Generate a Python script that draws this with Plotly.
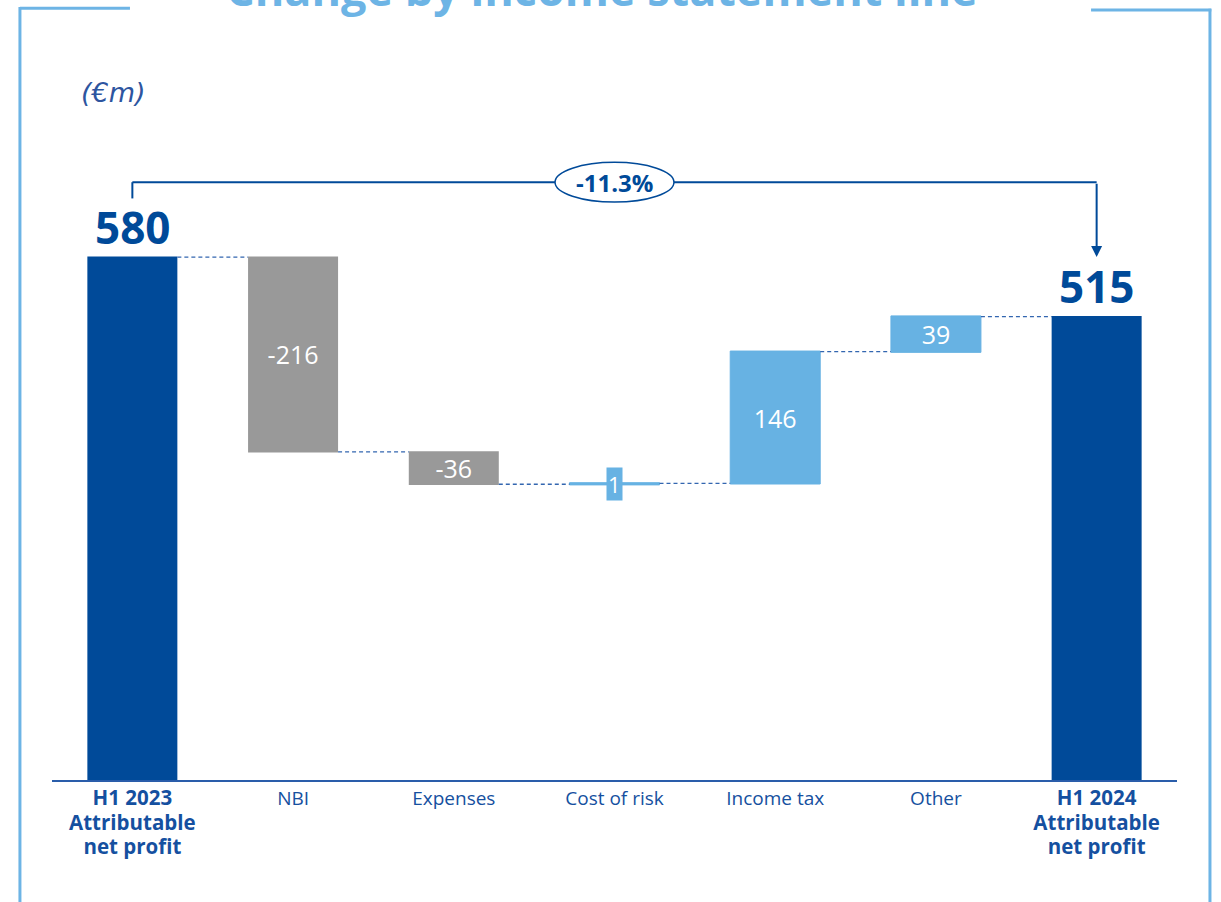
import plotly.graph_objects as go

# ---- data ----
categories = ["H1 2023 Attributable net profit", "NBI", "Expenses", "Cost of risk",
              "Income tax", "Other", "H1 2024 Attributable net profit"]
tick_labels = [
    "<span style='font-size:20.5px'><b>H1 2023<br>Attributable<br>net profit</b></span>",
    "NBI", "Expenses", "Cost of risk", "Income tax", "Other",
    "<span style='font-size:20.5px'><b>H1 2024<br>Attributable<br>net profit</b></span>",
]
measures = ["absolute", "relative", "relative", "relative", "relative", "relative", "total"]
values = [580, -216, -36, 1, 146, 39, 515]
inside_labels = ["", "-216", "-36", "", "146", "39", ""]
total_labels = {0: "580", 6: "515"}
small_label_index = 3
change_label = "-11.3%"

DARK = "#004A99"
GREY = "#999999"
LIGHT = "#67B2E3"
FRAME = "#6DB4E5"
TICK = "#1550A0"

# running totals (for label placement)
running = []
acc = 0
for m, v in zip(measures, values):
    if m == "absolute":
        acc = v
    elif m == "relative":
        acc += v
    running.append(acc)

fig = go.Figure()
fig.add_trace(go.Waterfall(
    x=categories, y=values, measure=measures,
    text=inside_labels, textposition="inside", insidetextanchor="middle",
    constraintext="none", textangle=0,
    textfont=dict(color="white", size=25, family="Open Sans"),
    increasing=dict(marker=dict(color=LIGHT, line=dict(color=LIGHT, width=1))),
    decreasing=dict(marker=dict(color=GREY, line=dict(width=0))),
    totals=dict(marker=dict(color=DARK, line=dict(width=0))),
    connector=dict(mode="between", line=dict(color="#3366B0", width=1.3, dash="4px,3px")),
    width=0.56,
    hoverinfo="skip",
))

annotations = []
for i, t in total_labels.items():
    annotations.append(dict(x=categories[i], y=running[i] if measures[i] != "total" else values[i],
                            text=f"<b>{t}</b>", showarrow=False, yanchor="middle", yshift=30,
                            font=dict(size=44, color=DARK, family="Open Sans")))
# small label on tiny bar
annotations.append(dict(x=categories[small_label_index],
                        y=running[small_label_index] - values[small_label_index] / 2,
                        text=str(values[small_label_index]), showarrow=False,
                        bgcolor=LIGHT, borderpad=1,
                        font=dict(size=22, color="white", family="Open Sans")))

# bracket level (data units)
BR_Y = 663
annotations.append(dict(x=categories[6], y=values[0], ax=categories[6], ay=BR_Y,
                        xref="x", yref="y", axref="x", ayref="y", text="",
                        showarrow=True, arrowhead=2, arrowsize=1.1, arrowwidth=2,
                        arrowcolor=DARK, standoff=0))
annotations.append(dict(x=categories[3], y=BR_Y, text=f"<b>{change_label}</b>",
                        showarrow=False, font=dict(size=24, color=DARK, family="Open Sans")))
# unit label
annotations.append(dict(xref="paper", yref="paper", x=0.024, y=1.075, xanchor="left",
                        yanchor="middle", text="<i>(€m)</i>", showarrow=False,
                        font=dict(size=27, color="#2D55A0", family="DejaVu Sans")))
# title (cut off at top)
annotations.append(dict(xref="paper", yref="paper", x=0.489, y=1.236, xanchor="center",
                        yanchor="middle", text="<b>Change by income statement line</b>",
                        showarrow=False, font=dict(size=45, color=FRAME, family="Open Sans")))

shapes = [
    # bracket
    dict(type="line", xref="x", yref="y", x0=categories[0], x1=categories[0],
         y0=BR_Y - 18, y1=BR_Y, line=dict(color=DARK, width=2)),
    dict(type="line", xref="x", yref="y", x0=categories[0], x1=categories[6],
         y0=BR_Y, y1=BR_Y, line=dict(color=DARK, width=2)),
    # oval
    dict(type="circle", xref="x", yref="y", x0=2.63, x1=3.37, y0=BR_Y - 22, y1=BR_Y + 22,
         fillcolor="white", line=dict(color=DARK, width=1.5), layer="above"),
    # frame
    dict(type="line", xref="paper", yref="paper", x0=-0.0285, x1=0.0693, y0=1.206, y1=1.206,
         line=dict(color=FRAME, width=3)),
    dict(type="line", xref="paper", yref="paper", x0=-0.0285, x1=-0.0285, y0=1.208, y1=-0.25,
         line=dict(color=FRAME, width=3)),
    dict(type="line", xref="paper", yref="paper", x0=0.9236, x1=1.0305, y0=1.203, y1=1.203,
         line=dict(color=FRAME, width=3)),
    dict(type="line", xref="paper", yref="paper", x0=1.0293, x1=1.0293, y0=1.205, y1=-0.25,
         line=dict(color=FRAME, width=3)),
]

fig.update_layout(
    width=1221, height=902,
    margin=dict(l=52, r=44, t=140, b=122),
    paper_bgcolor="white", plot_bgcolor="white",
    showlegend=False,
    font=dict(family="Open Sans", color=TICK),
    annotations=annotations, shapes=shapes,
    xaxis=dict(range=[-0.5, 6.5], tickmode="array", tickvals=categories, ticktext=tick_labels,
               showline=True, linecolor="#2A5DAA", linewidth=2, showgrid=False, zeroline=False,
               ticks="", tickfont=dict(size=19, color=TICK, family="Open Sans"), fixedrange=True),
    yaxis=dict(range=[0, 709.8], visible=False, showgrid=False, zeroline=False, fixedrange=True),
)

# remove the browser's default 8px body margin so the figure fills the window
fig.write_html("out.html",
               config={"displayModeBar": False, "staticPlot": True},
               post_script="document.body.style.margin='0';document.body.style.overflow='hidden';")
